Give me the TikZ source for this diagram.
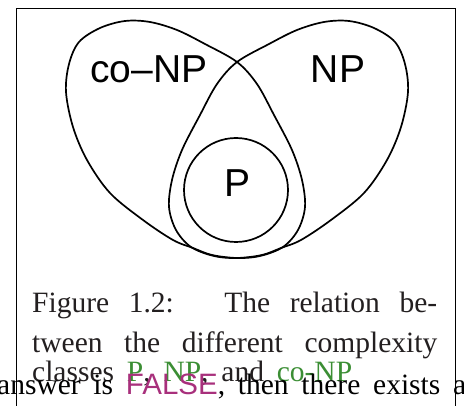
\documentclass[tikz,border=0pt]{standalone}
\usepackage{fontspec}
\setmainfont{Liberation Serif}
\setsansfont{Liberation Sans}
\usepackage{xcolor}
\usepackage{tikz}
\usetikzlibrary{positioning}
\definecolor{capgray}{HTML}{231F20}
\definecolor{classgreen}{HTML}{3B8E34}
\definecolor{falsemag}{HTML}{A8307C}
\tikzset{
  setline/.style={draw=black, line width=1.7pt},
  setlabel/.style={font=\sffamily\fontsize{39}{39}\selectfont, inner sep=0pt, anchor=base},
  captext/.style={font=\fontsize{29.5}{40}\selectfont, text=capgray, inner sep=0pt, anchor=base west},
  bodytext/.style={font=\fontsize{29.5}{40}\selectfont, text=black, inner sep=0pt, anchor=base west},
  framebox/.style={draw=black, line width=1pt}
}
\newcommand{\cls}[1]{\textcolor{classgreen}{#1}}

\begin{document}
\begin{tikzpicture}[x=1pt, y=-1pt]
  \useasboundingbox (0,0) rectangle (464,406);

  %% Figure frame
  \draw[framebox] (16,406) -- (16,9) -- (455,9) -- (455,406);

  %% co-NP set, and NP as its mirror image
  \draw[setline] plot[smooth cycle, tension=0.55] coordinates {
    (237,258) (212,255) (193,248) (173,240) (143,220) (110,193) (87,160)
    (73,127) (66,92) (69,64) (79,42) (100,28) (125,21) (150,22) (177,30)
    (205,44) (237,62) (257,84) (274,115) (292,150) (302,180) (305,207)
    (298,230) (283,247) (260,256)};
  \begin{scope}[shift={(474,0)}, xscale=-1]
    \draw[setline] plot[smooth cycle, tension=0.55] coordinates {
      (237,258) (212,255) (193,248) (173,240) (143,220) (110,193) (87,160)
      (73,127) (66,92) (69,64) (79,42) (100,28) (125,21) (150,22) (177,30)
      (205,44) (237,62) (257,84) (274,115) (292,150) (302,180) (305,207)
      (298,230) (283,247) (260,256)};
  \end{scope}

  %% P set
  \draw[setline] (236,190) circle[radius=52];

  %% Set labels
  \node[setlabel] (conp) at (149,83) {co--NP};
  \node[setlabel] (np) at (338,83) {NP};
  \node[setlabel] (p) at (238,197) {P};

  %% Caption
  \node[captext] (cap1) at (32,313) {\makebox[405pt][s]{Figure 1.2:\hspace{16pt} The relation be-}};
  \node[captext] (cap2) at (32,353) {\makebox[405pt][s]{tween the different complexity}};
  \node[captext] (cap3) at (32,382) {\makebox[320pt][s]{classes \cls{P}, \cls{NP}, and \cls{co-NP}}};

  %% Running text below
  \node[bodytext] (body) at (-3,395) {\makebox[469pt][s]{answer is {\sffamily\textcolor{falsemag}{FALSE}}, then there exists a}};

\end{tikzpicture}
\end{document}
